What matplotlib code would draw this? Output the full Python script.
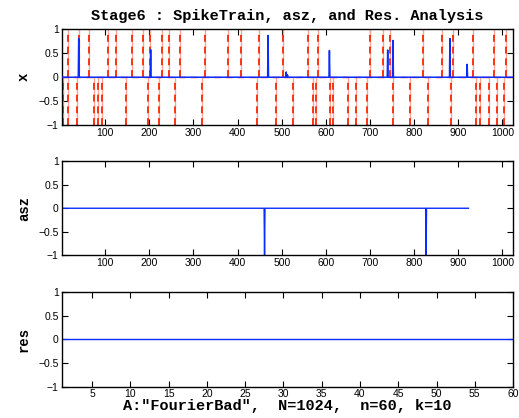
import numpy as np
import matplotlib
matplotlib.use("Agg")
import matplotlib.pyplot as plt

# spike train (blue) in the top panel
spike_pos = [40, 203, 469, 510, 513, 608, 740, 752, 881, 920]
spike_val = [0.81, 0.58, 0.875, 0.11, 0.05, 0.56, 0.57, 0.77, 0.81, 0.27]

# red dashed markers: going up (0..1) and going down (0..-1)
up_pos = [15, 41, 63, 107, 124, 161, 185, 202, 228, 245, 270, 326, 379, 408,
          449, 503, 560, 583, 700, 729, 745, 821, 863, 888, 933, 980, 1008]
down_pos = [4, 15, 35, 75, 84, 93, 148, 198, 223, 258, 319, 443, 486, 526,
            570, 578, 609, 617, 651, 668, 693, 751, 791, 831, 883, 940, 949,
            970, 987, 1004]

# asz panel
asz_len = 923
asz_neg = [461, 827]

# res panel
res_len = 60

N = 1024
mono = ["Liberation Mono", "DejaVu Sans Mono"]
plt.rcParams['font.family'] = ["Liberation Sans", "DejaVu Sans"]
plt.rcParams['font.size'] = 7.5

fig = plt.figure(figsize=(5.19, 4.18), dpi=100)
ax1 = fig.add_axes([0.1185, 0.701, 0.870, 0.2285])
ax2 = fig.add_axes([0.1185, 0.3888, 0.870, 0.226])
ax3 = fig.add_axes([0.1185, 0.0749, 0.870, 0.226])

t = np.arange(1, N + 1)
x = np.zeros(N)
x[np.array(spike_pos) - 1] = spike_val

ax1.axhline(0, color='#ff3010', lw=1.0, ls=(0, (4.9, 3.5)), zorder=1)
for pos, lo, hi in ((up_pos, 0, 1), (down_pos, -1, 0)):
    ax1.vlines(pos, lo, hi, colors='#ffa595', linestyles=(4, (4.9, 3.5)),
               lw=1.0, zorder=2)
    ax1.vlines(pos, lo, hi, colors='#ff2200', linestyles=(0, (3.8, 2.7)),
               lw=1.3, zorder=2)
ax1.plot(t, x, color='#0a2cff', lw=1.1, zorder=3)
ax1.set_xlim(1, N)
ax1.set_ylim(-1, 1)
ax1.set_xticks(range(100, 1001, 100))
ax1.set_ylabel('x', family=mono, fontweight='bold', fontsize=10)
ax1.set_title('Stage6 : SpikeTrain, asz, and Res. Analysis', family=mono,
              fontweight='bold', fontsize=11, pad=7)

ta = np.arange(1, asz_len + 1)
asz = np.zeros(asz_len)
asz[np.array(asz_neg) - 1] = -1
ax2.plot(ta, asz, color='#0a2cff', lw=1.0)
ax2.set_xlim(1, N)
ax2.set_ylim(-1, 1)
ax2.set_xticks(range(100, 1001, 100))
ax2.set_ylabel('asz', family=mono, fontweight='bold', fontsize=10)

tr = np.arange(1, res_len + 1)
res = np.zeros(res_len)
ax3.plot(tr, res, color='#0a2cff', lw=1.0)
ax3.set_xlim(1, res_len)
ax3.set_ylim(-1, 1)
ax3.set_xticks(range(5, 61, 5))
ax3.set_ylabel('res', family=mono, fontweight='bold', fontsize=10)
ax3.set_xlabel('A:"FourierBad",  N=1024,  n=60, k=10', family=mono,
               fontweight='bold', fontsize=11, labelpad=0)

for ax in (ax1, ax2, ax3):
    ax.set_yticks([-1, -0.5, 0, 0.5, 1])
    ax.set_yticklabels(['\u22121', '\u22120.5', '0', '0.5', '1'])
    ax.tick_params(direction='in', top=True, right=True, length=4,
                   width=0.8, labelsize=7.5, pad=2)
    ax.yaxis.set_label_coords(-0.0675, 0.5)
    for s in ax.spines.values():
        s.set_linewidth(1.0)

fig.savefig('out.png', dpi=100)
